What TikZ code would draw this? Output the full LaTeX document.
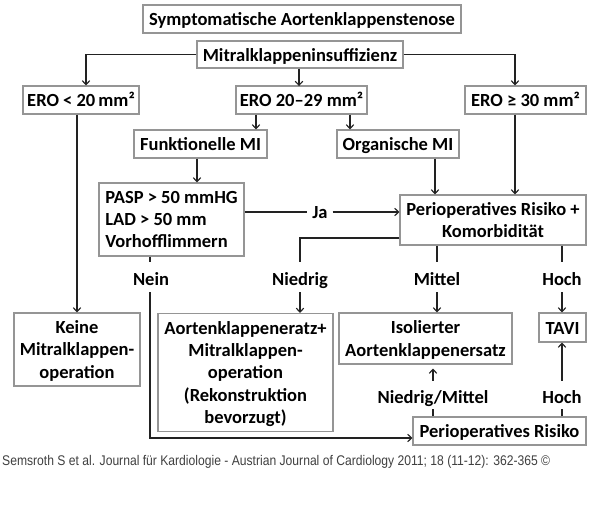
\documentclass[tikz,border=0pt]{standalone}
\usepackage{fontspec}
\setmainfont{Carlito}
\newfontfamily\footfont{Liberation Sans}
\usetikzlibrary{arrows.meta}
\definecolor{boxgray}{HTML}{959595}
\definecolor{linecol}{HTML}{222222}
\begin{document}
\begin{tikzpicture}[x=1pt,y=-1pt,
  box/.style={draw=boxgray, line width=1.1pt, fill=white, inner sep=0pt, align=center,
    font=\fontsize{18.5}{22.3}\selectfont\bfseries},
  one/.style={text height=15pt, text depth=1.5pt},
  multi/.style={text depth=0pt},
  multilow/.style={text depth=-3pt},
  lbl/.style={inner sep=0pt, font=\fontsize{18.5}{22}\selectfont\bfseries, text height=17pt, text depth=1pt},
  conn/.style={draw=linecol, line width=1.2pt},
  arr/.style={conn, -{Straight Barb[length=4pt,width=7.5pt,line width=1.1pt]}}]
\useasboundingbox[fill=white] (0,0) rectangle (600,511);

% boxes
\node[box, one, minimum width=318pt, minimum height=28pt] (sym) at (302,19) {Symptomatische Aortenklappenstenose};
\node[box, one, minimum width=206pt, minimum height=27pt] (mitral) at (300,54.5) {Mitralklappeninsuffizienz};
\node[box, one, minimum width=116pt, minimum height=28pt] (ero1) at (81,100) {ERO < 20\,mm²};
\node[box, one, minimum width=131pt, minimum height=28pt] (ero2) at (301.5,100) {ERO 20–29 mm²};
\node[box, one, minimum width=121pt, minimum height=28pt] (ero3) at (525.5,100) {ERO ≥ 30 mm²};
\node[box, one, minimum width=133pt, minimum height=28pt] (funk) at (200.5,144) {Funktionelle MI};
\node[box, one, minimum width=122pt, minimum height=28pt] (org) at (398,144) {Organische MI};
\node[box, multi, minimum width=145pt, minimum height=73pt, align=left] (pasp) at (171.5,219.5) {PASP > 50 mmHG\\LAD > 50 mm\\Vorhofflimmern\hspace*{9pt}};
\node[box, multi, minimum width=186pt, minimum height=50pt] (peri1) at (493,220) {Perioperatives Risiko +\\Komorbidität};
\node[box, multilow, minimum width=126pt, minimum height=73pt] (keine) at (77,349.5) {Keine\\Mitralklappen-\\operation};
\node[box, multilow, minimum width=175pt, minimum height=118pt] (aort) at (245.5,372.5) {Aortenklappeneratz+\\Mitralklappen-\\operation\\(Rekonstruktion\\bevorzugt)};
\node[box, multilow, minimum width=173pt, minimum height=51pt] (iso) at (425.5,338.5) {Isolierter\\Aortenklappenersatz};
\node[box, one, minimum width=47pt, minimum height=29pt] (tavi) at (562.5,327.5) {TAVI};
\node[box, one, minimum width=173pt, minimum height=28pt] (peri2) at (499.5,431) {Perioperatives Risiko};

% labels
\node[lbl, minimum height=30pt] (nein) at (151,277) {Nein};
\node[lbl, minimum height=30pt] (nied) at (300,277) {Niedrig};
\node[lbl, minimum height=30pt] (mitt) at (437,277) {Mittel};
\node[lbl, minimum height=30pt] (hoch) at (562,277) {Hoch};
\node[lbl, minimum height=28pt] (nm) at (433,395) {Niedrig/Mittel};
\node[lbl, minimum height=28pt] (hoch2) at (562,395) {Hoch};
\node[lbl, text height=14pt, text depth=2pt, minimum width=25pt] (ja) at (320,212) {Ja};

% column coordinates
\coordinate (c86) at (86,0);
\coordinate (c515) at (515,0);
\coordinate (c256) at (256,0);
\coordinate (c350) at (350,0);
\coordinate (c197) at (197,0);
\coordinate (c435) at (435,0);
\coordinate (c77) at (77,0);
\coordinate (r238) at (0,238);
\coordinate (nbend) at (150,438);

% connectors
\draw[arr] (mitral.west) -| (ero1.north -| c86);
\draw[arr] (mitral.south -| ero2.north) ++(-2.5,0) -- ++(0,17.5);
\draw[arr] (mitral.east) -| (ero3.north -| c515);
\draw[arr] (ero2.south -| c256) -- (funk.north -| c256);
\draw[arr] (ero2.south -| c350) -- (org.north -| c350);
\draw[arr] (funk.south -| c197) -- (pasp.north -| c197);
\draw[arr] (org.south -| c435) -- (peri1.north -| c435);
\draw[arr] (ero3.south -| c515) -- (peri1.north -| c515);
\draw[arr] (ero1.south -| c77) -- (keine.north -| c77);
\draw[conn] (ja.west -| pasp.east) -- (ja.west);
\draw[arr] (ja.east) -- (ja.east -| peri1.west);
\draw[conn] (peri1.west |- r238) -| (nied.north);
\draw[arr] (nied.south) -- (aort.north -| nied.south);
\draw[conn] (peri1.south -| mitt.north) -- (mitt.north);
\draw[arr] (mitt.south) -- (iso.north -| mitt.south);
\draw[conn] (peri1.south -| hoch.north) -- (hoch.north);
\draw[arr] (hoch.south) -- (tavi.north -| hoch.south);
\draw[conn] (pasp.south -| nein.north) ++(-1,0) -- ([xshift=-1pt]nein.north);
\draw[arr] ([xshift=-1pt]nein.south) -- (nbend) -- (nbend -| peri2.west);
\draw[conn] (peri2.north -| nm.south) -- (nm.south);
\draw[arr, shorten >=4pt] (nm.north) -- (iso.south -| nm.north);
\draw[conn] (peri2.north -| hoch2.south) -- (hoch2.south);
\draw[arr] (hoch2.north) -- (tavi.south -| hoch2.north);

% footer
\node[anchor=west, inner sep=0pt, text=black!75, font=\footfont\fontsize{14}{16}\selectfont] (foot) at (2,462)
  {\resizebox{548pt}{\height}{Semsroth S et al. Journal für Kardiologie - Austrian Journal of Cardiology 2011; 18 (11-12): 362-365 ©}};
\end{tikzpicture}
\end{document}
